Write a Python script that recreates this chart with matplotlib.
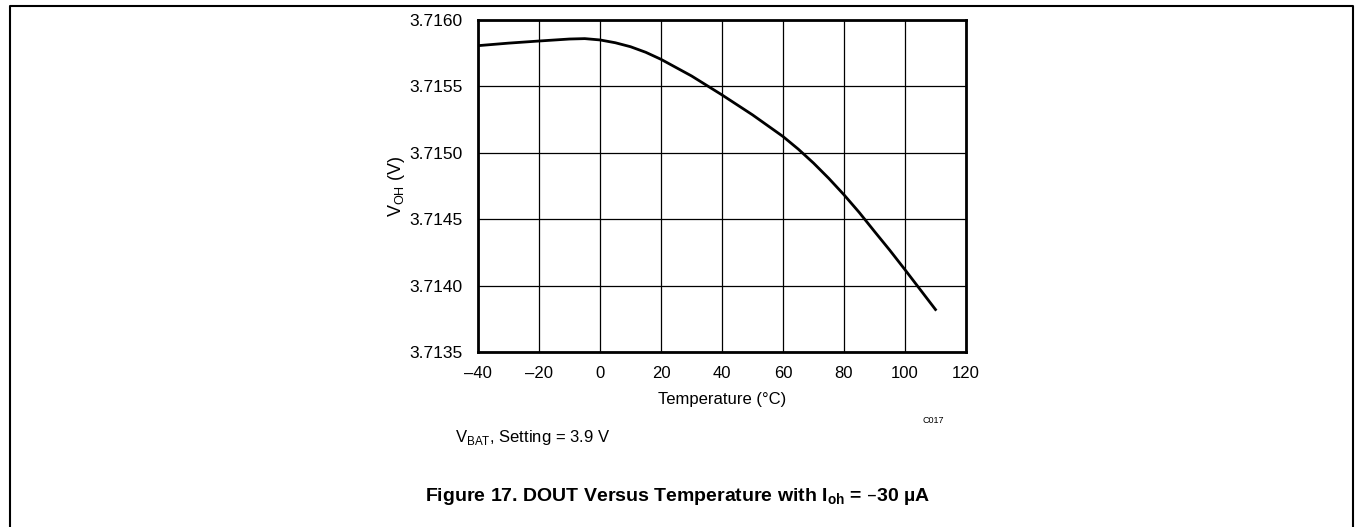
import matplotlib.pyplot as plt
from matplotlib.lines import Line2D

plt.rcParams['font.family'] = ['Liberation Sans', 'DejaVu Sans']

# temperature (deg C) and VOH (V)
temp = [-40, -30, -20, -10, -5, 0, 5, 10, 15, 20, 30, 40, 50, 60, 65, 70, 75, 80,
        85, 90, 95, 100, 104, 110]
voh = [3.715807, 3.715826, 3.715842, 3.715857, 3.715860, 3.715850, 3.715829, 3.715799,
       3.715757, 3.715704, 3.715579, 3.715436, 3.715286, 3.715123, 3.715028, 3.714923,
       3.714808, 3.714684, 3.714551, 3.714408, 3.714267, 3.714120, 3.714000, 3.713820]

xticks = [-40, -20, 0, 20, 40, 60, 80, 100, 120]
yticks = [3.7135, 3.7140, 3.7145, 3.7150, 3.7155, 3.7160]

fig = plt.figure(figsize=(13.55, 5.27), dpi=100)
ax = fig.add_axes([0.3528, 0.332, 0.3601, 0.630])

ax.plot(temp, voh, color='black', lw=2, solid_joinstyle='round')
ax.set_xlim(-40, 120)
ax.set_ylim(3.7135, 3.7160)
ax.set_xticks(xticks)
ax.set_xticklabels([str(t).replace('-', '\u2013') for t in xticks])
ax.set_yticks(yticks)
ax.set_yticklabels(['%.4f' % v for v in yticks])
ax.tick_params(length=0)
ax.tick_params(axis='x', pad=10, labelsize=12)
ax.tick_params(axis='y', pad=11, labelsize=12.5)
ax.grid(True, color='black', lw=0.9)
for s in ax.spines.values():
    s.set_linewidth(2)

ax.set_xlabel('Temperature (°C)', fontsize=12, labelpad=8)
ax.set_ylabel('V$_{\\mathregular{OH}}$ (V)', fontsize=13, labelpad=2)

fig.text(0.6886, 0.203, 'C017', fontsize=6.5, ha='center', va='center')
fig.text(0.336, 0.17, 'V$_{\\mathregular{BAT}}$, Setting = 3.9 V', fontsize=12,
         ha='left', va='center')
fig.text(0.5, 0.057, 'Figure 17. DOUT Versus Temperature with I$_{\\mathregular{oh}}$ = \u201330 \u00b5A',
         fontsize=14, fontweight='bold', ha='center', va='center')

# page frame
fig.add_artist(Line2D([0.0074, 0.0074, 0.9985, 0.9985], [0.0, 0.9886, 0.9886, 0.0],
                      transform=fig.transFigure, color='black', lw=1.5))

fig.savefig('out.png', dpi=100)
